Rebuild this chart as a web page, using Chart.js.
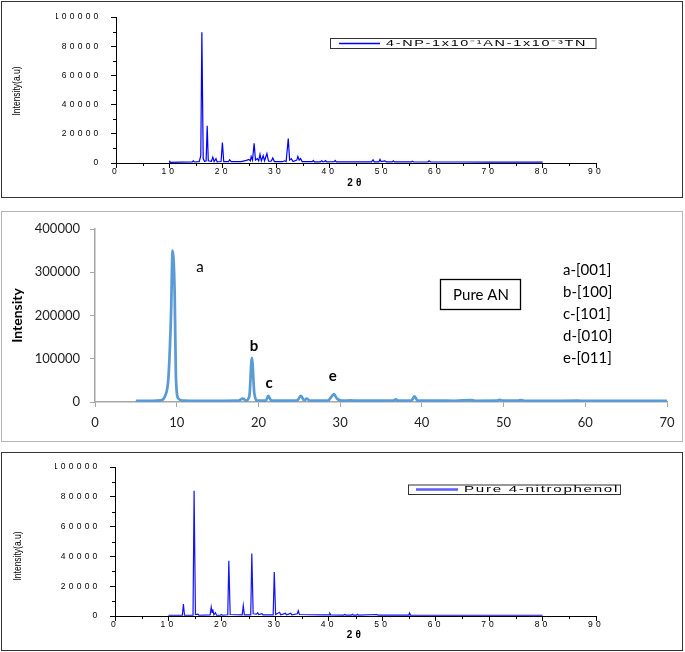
<!DOCTYPE html>
<html><head><meta charset="utf-8">
<script src="https://cdn.jsdelivr.net/npm/chart.js@4/dist/chart.umd.min.js"></script>
<style>
html,body{margin:0;padding:0;background:#fff;}
#wrap{position:relative;width:685px;height:652px;overflow:hidden;background:#fff;}
#wrap canvas{position:absolute;left:0;top:0;}
</style></head><body>
<div id="wrap">
<canvas id="c1" width="685" height="652"></canvas>
<canvas id="c2" width="685" height="652"></canvas>
<canvas id="c3" width="685" height="652"></canvas>
</div>
<script>
// ---- Panel 1: 4-NP-1x10^-1 AN-1x10^-3 TN ----
const tn2Theta = [10.0,10.1,12.0, 14.3,14.5,14.7, 15.6,15.9,16.1,16.35,16.6, 16.9,17.1,17.3, 17.9,18.15,18.4, 18.75,18.95,
  19.7,19.95,20.2, 21.1,21.3,21.6, 23.5, 24.6,24.9,25.2,25.35,25.6, 25.9,26.15, 26.5,26.75, 27.0,27.25, 27.6,27.85, 28.3,28.6,
  29.1,29.4,29.7, 31.2,31.6,31.9, 32.3,32.55, 32.85,33.2, 33.9,34.1,34.35, 34.6,34.9, 36.8,37.0,37.2, 38.3,38.6,38.8,
  39.1,39.3,39.5, 40.9,41.1,41.3, 44.5, 47.9,48.2,48.4, 49.3,49.5,49.7, 50.4,50.7, 51.8,52.0,52.2, 55.4,55.6,55.8,
  58.5,58.7,59.0, 65,70,75,80];
const tnIntensity = [1500,500,600, 700,1500,700, 900,5000,89500,3000,1000, 1500,25500,1500, 1200,4000,1000, 3000,800,
  1000,14000,1000, 1000,2200,900, 900, 2000,2500,1500,4500,2000, 13500,2000, 3000,1500, 6000,1500, 5000,1500, 6500,1200,
  1200,3500,1000, 900,1500,1000, 16800,2000, 3000,1000, 2000,4500,2000, 3000,1000, 900,1800,800, 800,1500,800,
  1000,1600,800, 900,1800,800, 800, 800,2200,800, 800,2500,1000, 1500,800, 800,1500,800, 800,1200,700,
  700,1500,700, 700,600,600,600];

// ---- Panel 2: Pure AN ----
const an2Theta = [5,7,8,8.6,9.0,9.3,9.5,9.75,9.9,10.2,10.8,13, 17.5,18.1,18.5,18.9,19.2,19.5,19.9, 20.9,21.2,21.6,
  24.7,25.2,25.6,25.9,26.3, 28.5,29.0,29.25,29.6,30.2, 31.3,32, 36.5,36.8,37.1, 38.7,39.1,39.5, 42,44,46,46.5,
  49.2,49.5,49.9, 51.8,52.1,52.5, 55,59,60,65,70];
const anIntensity = [2500,2500,3500,15000,60000,200000,350000,250000,60000,8000,3000,2500, 3000,8000,3000,15000,102000,20000,3000, 3000,14000,3000,
  3000,14000,3500,8000,3000, 3000,14000,18000,8000,3000, 3500,3200, 3000,6000,3000, 3000,13000,3000, 3000,2800,4500,2800,
  3000,5000,3000, 3000,4500,2800, 2500,3000,2500,2500,2500];
const anPeakLetters = ['a','b','c','e'];
const anPlanes = ['a-[001]','b-[100]','c-[101]','d-[010]','e-[011]'];

// ---- Panel 3: Pure 4-nitrophenol ----
const np2Theta = [10,12.6,12.8,13.0, 14.6,14.8,15.05,15.5,15.7, 17.8,18.0,18.15,18.3,18.5,18.8,19.0, 19.7,19.9,20.1,
  21.1,21.3,21.55, 23.8,24.0,24.2, 25.4,25.6,25.85, 26.5,26.7,26.9, 27.5,27.7, 29.6,29.8,30.05, 30.8,31.0, 31.9,32.1,
  32.9,33.1, 34.1,34.3,34.5, 38.8, 40.1,40.2,40.4, 42.8,43.0,43.2, 44.2,44.4,44.6, 45.2,45.4,45.6, 49.0,49.2, 50.2,
  55.0,55.1,55.3, 60,70,80];
const npIntensity = [500,500,8000,500, 500,84000,1000,1200,500, 800,6000,2500,4500,800,2200,500, 500,1000,500,
  800,37000,1000, 800,7000,800, 800,42000,1500, 1200,2200,1000, 1500,800, 800,29500,1000, 2500,800, 1800,800,
  1800,800, 1500,3500,1000, 800, 800,1800,700, 600,1000,600, 600,1200,600, 600,1200,600, 1000,600, 600,
  600,2000,600, 500,500,500];

const tnLabel = '4-NP-1x10\u207B\u00B9AN-1x10\u207B\u00B3TN';
const anLabel = 'Pure AN';
const npLabel = 'Pure 4-nitrophenol';
const xTitle = '2\u03B8';
const yTitleOrigin = 'Intensity(a.u)';
const yTitleExcel = 'Intensity';

const LIB = "'Liberation Sans', Arial, sans-serif";

const originPlugin = {
  id: 'originDeco',
  beforeDraw(chart, args, o) { chart.ctx.letterSpacing = o.spacing + 'px'; },
  afterDraw(chart, args, o) {
    const ctx = chart.ctx, xs = chart.scales.x, ys = chart.scales.y;
    ctx.save();
    ctx.letterSpacing = '0px';
    // frame
    ctx.strokeStyle = '#333'; ctx.lineWidth = 1;
    ctx.strokeRect(o.frame[0], o.frame[1], o.frame[2], o.frame[3]);
    // minor ticks
    ctx.strokeStyle = '#000'; ctx.beginPath();
    for (let v = 5; v < 90; v += 10) {
      const px = Math.round(xs.getPixelForValue(v)) + 0.5;
      ctx.moveTo(px, ys.bottom); ctx.lineTo(px, ys.bottom + 3);
    }
    for (let v = 10000; v < 100000; v += 20000) {
      const py = Math.round(ys.getPixelForValue(v)) + 0.5;
      ctx.moveTo(xs.left - 3, py); ctx.lineTo(xs.left, py);
    }
    ctx.stroke();
    // condensed y title
    ctx.save();
    ctx.font = '11px ' + LIB; ctx.fillStyle = '#000';
    const w = ctx.measureText(yTitleOrigin).width;
    ctx.translate(o.yTitle[0], o.yTitle[1]); ctx.rotate(-Math.PI / 2);
    ctx.scale(o.yTitle[2] / w, 1);
    ctx.textAlign = 'center'; ctx.textBaseline = 'middle';
    ctx.fillText(yTitleOrigin, 0, 0);
    ctx.restore();
    // legend box
    const L = o.legend;
    ctx.strokeStyle = '#333'; ctx.lineWidth = 1;
    ctx.strokeRect(L.box[0], L.box[1], L.box[2], L.box[3]);
    ctx.strokeStyle = L.lineColor; ctx.lineWidth = L.lineWidth;
    ctx.beginPath(); ctx.moveTo(L.line[0], L.line[2]); ctx.lineTo(L.line[1], L.line[2]); ctx.stroke();
    ctx.font = L.size + 'px ' + LIB; ctx.fillStyle = '#000';
    ctx.letterSpacing = L.spacing + 'px';
    const tw = ctx.measureText(L.text).width;
    ctx.translate(L.textX, L.line[2] + 0.5);
    ctx.scale(L.textW / tw, 1);
    ctx.textAlign = 'left'; ctx.textBaseline = 'middle';
    ctx.fillText(L.text, 0, 0);
    ctx.restore();
  }
};

function makeOrigin(id, xsArr, ysArr, cfg) {
  const tickFont = { family: LIB, size: 8.5 };
  return new Chart(document.getElementById(id), {
    type: 'line',
    data: { datasets: [{ data: xsArr.map((x, i) => ({ x: x, y: ysArr[i] })), borderColor: cfg.color, borderWidth: 1.2,
      pointRadius: 0, tension: 0, fill: false }] },
    options: {
      responsive: false, animation: false, devicePixelRatio: 1,
      layout: { padding: { left: cfg.area[0] - 60, right: 685 - cfg.area[1], top: cfg.area[2], bottom: 652 - cfg.area[3] - 30 } },
      plugins: { legend: { display: false }, tooltip: { enabled: false }, originDeco: cfg.deco },
      scales: {
        x: {
          type: 'linear', min: 0, max: 90, afterFit: s => { s.height = 30; },
          border: { display: true, color: '#000', width: 1 },
          grid: { display: true, drawOnChartArea: false, drawTicks: true, tickLength: 5, color: '#000', tickColor: '#000' },
          ticks: { stepSize: 10, font: tickFont, color: '#000', padding: -1.5, maxRotation: 0, autoSkip: false, callback: v => String(v) },
          title: { display: true, text: xTitle, color: '#000', font: { family: LIB, size: 10, weight: 'bold' },
            padding: { top: 0, bottom: cfg.xTitlePad } }
        },
        y: {
          type: 'linear', min: 0, max: 100000, afterFit: s => { s.width = 60; },
          border: { display: true, color: '#000', width: 1 },
          grid: { display: true, drawOnChartArea: false, drawTicks: true, tickLength: 5, color: '#000', tickColor: '#000' },
          ticks: { stepSize: 20000, font: tickFont, color: '#000', padding: 9.5, callback: v => String(v) }
        }
      }
    },
    plugins: [originPlugin]
  });
}

makeOrigin('c1', tn2Theta, tnIntensity, {
  color: '#0000ff', area: [116, 596, 17, 163], xTitlePad: 3.5,
  deco: { spacing: 3.2, frame: [1.5, 1.5, 681, 196], yTitle: [17, 91, 49],
    legend: { box: [330.5, 38.5, 265.5, 10], line: [339, 380, 43.5], lineColor: '#0000ff', lineWidth: 1.5,
      text: tnLabel, size: 8.5, spacing: 1, textX: 386, textW: 201 } }
});

makeOrigin('c3', np2Theta, npIntensity, {
  color: '#1414f5', area: [115, 596, 467, 616], xTitlePad: 4.5,
  deco: { spacing: 3.2, frame: [1.5, 452.5, 681, 198], yTitle: [18, 556, 49],
    legend: { box: [408.5, 485, 212, 9.5], line: [416, 458, 489.5], lineColor: '#5a5aff', lineWidth: 2.5,
      text: npLabel, size: 9, spacing: 1, textX: 464, textW: 155 } }
});

const excelPlugin = {
  id: 'excelDeco',
  afterDraw(chart, args, o) {
    const ctx = chart.ctx, xs = chart.scales.x, ys = chart.scales.y;
    ctx.save();
    ctx.strokeStyle = '#b4b4b4'; ctx.lineWidth = 1;
    ctx.strokeRect(1.5, 211.5, 681, 230);
    ctx.fillStyle = '#000'; ctx.textAlign = 'center'; ctx.textBaseline = 'middle';
    o.peaks.forEach((p, i) => {
      ctx.font = (p.bold ? 'bold ' : '') + '15px Lato';
      ctx.fillText(anPeakLetters[i], xs.getPixelForValue(p.x), ys.getPixelForValue(p.y));
    });
    ctx.strokeStyle = '#000'; ctx.lineWidth = 1.3;
    ctx.strokeRect(440.5, 279.5, 80, 30);
    ctx.font = '15px Lato';
    ctx.fillText(anLabel, 481, 295);
    ctx.textAlign = 'left';
    anPlanes.forEach((t, i) => ctx.fillText(t, 563, 270 + i * 22));
    ctx.restore();
  }
};

new Chart(document.getElementById('c2'), {
  type: 'line',
  data: { datasets: [{ data: an2Theta.map((x, i) => ({ x: x, y: anIntensity[i] })), borderColor: '#5b9bd5', borderWidth: 2.75,
    pointRadius: 0, cubicInterpolationMode: 'monotone', fill: false }] },
  options: {
    responsive: false, animation: false, devicePixelRatio: 1,
    layout: { padding: { left: 5, right: 685 - 667, top: 229, bottom: 652 - 402 - 35 } },
    plugins: { legend: { display: false }, tooltip: { enabled: false },
      excelDeco: { peaks: [ { x: 12.85, y: 312000, bold: false }, { x: 19.45, y: 129500, bold: true },
        { x: 21.3, y: 44000, bold: true }, { x: 29.1, y: 60000, bold: true } ] } },
    scales: {
      x: {
        type: 'linear', min: 0, max: 70, afterFit: s => { s.height = 35; },
        border: { display: true, color: '#a6a6a6', width: 1.5 },
        grid: { display: true, drawOnChartArea: false, drawTicks: true, tickLength: 5, color: '#a6a6a6', tickColor: '#a6a6a6' },
        ticks: { stepSize: 10, font: { family: 'Lato', size: 13 }, color: '#222', padding: 8, maxRotation: 0, autoSkip: false, callback: v => String(v) }
      },
      y: {
        type: 'linear', min: 0, max: 400000, afterFit: s => { s.width = 90; },
        border: { display: true, color: '#a6a6a6', width: 1.5 },
        grid: { display: true, drawOnChartArea: false, drawTicks: true, tickLength: 5, color: '#a6a6a6', tickColor: '#a6a6a6' },
        ticks: { stepSize: 100000, font: { family: 'Lato', size: 13 }, color: '#222', padding: 10, callback: v => String(v) },
        title: { display: true, text: yTitleExcel, color: '#000', font: { family: 'Lato', size: 14, weight: 'bold' }, padding: { top: 3.6, bottom: 0 } }
      }
    }
  },
  plugins: [excelPlugin]
});
</script>
</body></html>
